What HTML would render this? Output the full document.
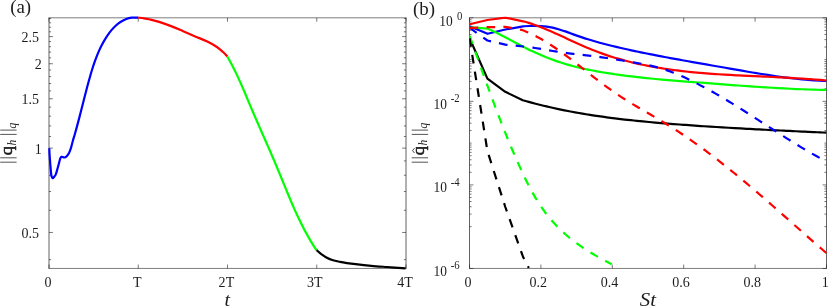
<!DOCTYPE html>
<html lang="en">
<head>
<meta charset="utf-8">
<title>Figure</title>
<style>
html,body{margin:0;padding:0;background:#ffffff;}
body{width:830px;height:307px;overflow:hidden;font-family:"Liberation Serif",serif;}
svg{display:block;will-change:transform;}
</style>
</head>
<body>
<svg width="830" height="307" viewBox="0 0 830 307">
<rect x="0" y="0" width="830" height="307" fill="#ffffff"/>
<g stroke="#262626" stroke-width="0.62" fill="none">
<path d="M49 268.45L49 264.55 M49 17.8L49 21.7 M138.25 268.45L138.25 264.55 M138.25 17.8L138.25 21.7 M227.5 268.45L227.5 264.55 M227.5 17.8L227.5 21.7 M316.75 268.45L316.75 264.55 M316.75 17.8L316.75 21.7 M406 268.45L406 264.55 M406 17.8L406 21.7 M49 259.61L51.1 259.61 M406 259.61L403.9 259.61 M49 232.46L52.9 232.46 M406 232.46L402.1 232.46 M49 210.27L51.1 210.27 M406 210.27L403.9 210.27 M49 191.51L51.1 191.51 M406 191.51L403.9 191.51 M49 175.26L51.1 175.26 M406 175.26L403.9 175.26 M49 160.92L51.1 160.92 M406 160.92L403.9 160.92 M49 148.1L52.9 148.1 M406 148.1L402.1 148.1 M49 136.5L51.1 136.5 M406 136.5L403.9 136.5 M49 125.91L51.1 125.91 M406 125.91L403.9 125.91 M49 116.17L51.1 116.17 M406 116.17L403.9 116.17 M49 107.15L51.1 107.15 M406 107.15L403.9 107.15 M49 98.75L52.9 98.75 M406 98.75L402.1 98.75 M49 90.9L51.1 90.9 M406 90.9L403.9 90.9 M49 83.52L51.1 83.52 M406 83.52L403.9 83.52 M49 76.57L51.1 76.57 M406 76.57L403.9 76.57 M49 69.99L51.1 69.99 M406 69.99L403.9 69.99 M49 63.74L52.9 63.74 M406 63.74L402.1 63.74 M49 57.81L51.1 57.81 M406 57.81L403.9 57.81 M49 52.14L51.1 52.14 M406 52.14L403.9 52.14 M49 46.73L51.1 46.73 M406 46.73L403.9 46.73 M49 41.56L51.1 41.56 M406 41.56L403.9 41.56 M49 36.59L52.9 36.59 M406 36.59L402.1 36.59 M49 31.81L51.1 31.81 M406 31.81L403.9 31.81 M49 27.22L51.1 27.22 M406 27.22L403.9 27.22 M49 22.8L51.1 22.8 M406 22.8L403.9 22.8 M49 18.52L51.1 18.52 M406 18.52L403.9 18.52 M469.5 268.45L469.5 264.55 M469.5 17.8L469.5 21.7 M540.9 268.45L540.9 264.55 M540.9 17.8L540.9 21.7 M612.3 268.45L612.3 264.55 M612.3 17.8L612.3 21.7 M683.7 268.45L683.7 264.55 M683.7 17.8L683.7 21.7 M755.1 268.45L755.1 264.55 M755.1 17.8L755.1 21.7 M826.5 268.45L826.5 264.55 M826.5 17.8L826.5 21.7 M469.5 17.8L473.4 17.8 M826.5 17.8L822.6 17.8 M469.5 59.58L471.6 59.58 M826.5 59.58L824.4 59.58 M469.5 47L471.6 47 M826.5 47L824.4 47 M469.5 39.64L471.6 39.64 M826.5 39.64L824.4 39.64 M469.5 34.42L471.6 34.42 M826.5 34.42L824.4 34.42 M469.5 30.38L471.6 30.38 M826.5 30.38L824.4 30.38 M469.5 27.07L471.6 27.07 M826.5 27.07L824.4 27.07 M469.5 24.27L471.6 24.27 M826.5 24.27L824.4 24.27 M469.5 21.85L471.6 21.85 M826.5 21.85L824.4 21.85 M469.5 19.71L471.6 19.71 M826.5 19.71L824.4 19.71 M469.5 101.35L473.4 101.35 M826.5 101.35L822.6 101.35 M469.5 88.77L471.6 88.77 M826.5 88.77L824.4 88.77 M469.5 81.42L471.6 81.42 M826.5 81.42L824.4 81.42 M469.5 76.2L471.6 76.2 M826.5 76.2L824.4 76.2 M469.5 72.15L471.6 72.15 M826.5 72.15L824.4 72.15 M469.5 68.84L471.6 68.84 M826.5 68.84L824.4 68.84 M469.5 66.05L471.6 66.05 M826.5 66.05L824.4 66.05 M469.5 63.62L471.6 63.62 M826.5 63.62L824.4 63.62 M469.5 61.49L471.6 61.49 M826.5 61.49L824.4 61.49 M469.5 143.12L471.6 143.12 M826.5 143.12L824.4 143.12 M469.5 130.55L471.6 130.55 M826.5 130.55L824.4 130.55 M469.5 123.19L471.6 123.19 M826.5 123.19L824.4 123.19 M469.5 117.97L471.6 117.97 M826.5 117.97L824.4 117.97 M469.5 113.93L471.6 113.93 M826.5 113.93L824.4 113.93 M469.5 110.62L471.6 110.62 M826.5 110.62L824.4 110.62 M469.5 107.82L471.6 107.82 M826.5 107.82L824.4 107.82 M469.5 105.4L471.6 105.4 M826.5 105.4L824.4 105.4 M469.5 103.26L471.6 103.26 M826.5 103.26L824.4 103.26 M469.5 184.9L473.4 184.9 M826.5 184.9L822.6 184.9 M469.5 172.32L471.6 172.32 M826.5 172.32L824.4 172.32 M469.5 164.97L471.6 164.97 M826.5 164.97L824.4 164.97 M469.5 159.75L471.6 159.75 M826.5 159.75L824.4 159.75 M469.5 155.7L471.6 155.7 M826.5 155.7L824.4 155.7 M469.5 152.39L471.6 152.39 M826.5 152.39L824.4 152.39 M469.5 149.6L471.6 149.6 M826.5 149.6L824.4 149.6 M469.5 147.17L471.6 147.17 M826.5 147.17L824.4 147.17 M469.5 145.04L471.6 145.04 M826.5 145.04L824.4 145.04 M469.5 226.68L471.6 226.68 M826.5 226.68L824.4 226.68 M469.5 214.1L471.6 214.1 M826.5 214.1L824.4 214.1 M469.5 206.74L471.6 206.74 M826.5 206.74L824.4 206.74 M469.5 201.52L471.6 201.52 M826.5 201.52L824.4 201.52 M469.5 197.48L471.6 197.48 M826.5 197.48L824.4 197.48 M469.5 194.17L471.6 194.17 M826.5 194.17L824.4 194.17 M469.5 191.37L471.6 191.37 M826.5 191.37L824.4 191.37 M469.5 188.95L471.6 188.95 M826.5 188.95L824.4 188.95 M469.5 186.81L471.6 186.81 M826.5 186.81L824.4 186.81 M469.5 268.45L473.4 268.45 M826.5 268.45L822.6 268.45"/>
</g>
<g stroke="#262626" fill="none">
<path stroke-width="0.6" d="M48.64 17.8H406.36 M48.64 268.45H406.36"/>
<path stroke-width="0.72" d="M49 17.8V268.45 M406 17.8V268.45"/>
<path stroke-width="0.6" d="M469.14 17.8H826.86 M469.14 268.45H826.86"/>
<path stroke-width="0.72" d="M469.5 17.8V268.45 M826.5 17.8V268.45"/>
</g>
<g fill="none" stroke-width="2.2" stroke-linejoin="round" stroke-linecap="butt">
<path stroke="#0000ff" d="M49.3 148.3 C49.35 149.42 49.43 152.33 49.6 155 C49.77 157.67 50.03 161.07 50.3 164.3 C50.57 167.53 50.92 172.23 51.2 174.4 C51.48 176.57 51.72 176.67 52 177.3 C52.28 177.93 52.57 178.25 52.9 178.2 C53.23 178.15 53.52 177.63 54 177 C54.48 176.37 55.15 176.03 55.8 174.4 C56.45 172.77 57.23 169.6 57.9 167.2 C58.57 164.8 59.35 161.57 59.8 160 C60.25 158.43 60.32 158.32 60.6 157.8 C60.88 157.28 61.13 157.03 61.5 156.9 C61.87 156.77 62.37 156.9 62.8 157 C63.23 157.1 63.68 157.47 64.1 157.5 C64.52 157.53 64.9 157.38 65.3 157.2 C65.7 157.02 65.9 157.07 66.5 156.4 C67.1 155.73 68.15 154.63 68.9 153.2 C69.65 151.77 70.35 149.83 71 147.8 C71.65 145.77 72.21 143.1 72.8 141 C73.39 138.9 73.95 137.16 74.52 135.22 C75.08 133.28 75.63 131.32 76.18 129.35 C76.72 127.37 77.26 125.39 77.8 123.39 C78.33 121.39 78.86 119.38 79.38 117.37 C79.91 115.35 80.43 113.33 80.95 111.3 C81.47 109.27 81.98 107.23 82.5 105.19 C83.02 103.15 83.54 101.11 84.06 99.06 C84.58 97.02 85.1 94.98 85.63 92.94 C86.16 90.9 86.69 88.86 87.23 86.83 C87.77 84.79 88.31 82.76 88.87 80.74 C89.43 78.73 89.98 76.71 90.56 74.71 C91.15 72.71 91.74 70.71 92.36 68.74 C92.98 66.76 93.62 64.79 94.3 62.84 C94.98 60.89 95.68 58.96 96.43 57.04 C97.18 55.13 97.95 53.23 98.79 51.35 C99.62 49.47 100.5 47.62 101.43 45.79 C102.36 43.96 103.34 42.15 104.39 40.37 C105.44 38.59 106.55 36.81 107.73 35.11 C108.91 33.4 110.15 31.71 111.47 30.14 C112.8 28.57 114.2 27.05 115.69 25.69 C117.18 24.33 118.75 23.05 120.43 21.98 C122.1 20.9 123.86 19.95 125.73 19.24 C127.6 18.53 129.57 17.98 131.66 17.7 C133.74 17.43 137.15 17.62 138.25 17.6"/>
<path stroke="#ff0000" d="M138.25 17.6 C139.21 17.72 142.04 17.98 144 18.3 C145.96 18.62 147.48 18.9 150 19.5 C152.52 20.1 155.58 20.8 159.1 21.9 C162.62 23 167.08 24.55 171.1 26.1 C175.12 27.65 179.18 29.48 183.2 31.2 C187.22 32.92 191.18 34.67 195.2 36.4 C199.22 38.13 203.68 39.83 207.3 41.6 C210.92 43.37 214.28 45.27 216.9 47 C219.52 48.73 221.23 50.4 223 52 C224.77 53.6 226.75 55.83 227.5 56.6"/>
<path stroke="#00ff00" d="M227.35 56.6 C227.86 57.5 229.4 60.19 230.38 61.99 C231.36 63.79 232.31 65.6 233.24 67.42 C234.16 69.23 235.06 71.05 235.94 72.87 C236.82 74.7 237.67 76.53 238.51 78.36 C239.36 80.19 240.18 82.03 240.99 83.87 C241.8 85.71 242.6 87.56 243.4 89.41 C244.19 91.26 244.97 93.11 245.76 94.97 C246.54 96.82 247.31 98.68 248.09 100.55 C248.88 102.41 249.65 104.28 250.44 106.14 C251.23 108.01 252.02 109.88 252.82 111.76 C253.62 113.63 254.43 115.5 255.24 117.38 C256.05 119.26 256.87 121.14 257.7 123.02 C258.52 124.9 259.35 126.78 260.17 128.66 C261 130.55 261.84 132.43 262.67 134.32 C263.5 136.2 264.33 138.09 265.16 139.97 C265.99 141.86 266.82 143.74 267.65 145.63 C268.48 147.51 269.31 149.4 270.13 151.29 C270.95 153.17 271.77 155.06 272.58 156.94 C273.39 158.82 274.19 160.71 274.99 162.59 C275.79 164.47 276.58 166.35 277.36 168.23 C278.15 170.11 278.92 171.99 279.69 173.87 C280.46 175.74 281.23 177.62 281.99 179.49 C282.76 181.36 283.52 183.23 284.29 185.09 C285.05 186.96 285.81 188.82 286.58 190.69 C287.35 192.55 288.12 194.4 288.9 196.26 C289.68 198.11 290.46 199.96 291.25 201.81 C292.04 203.65 292.84 205.5 293.65 207.33 C294.46 209.17 295.29 211 296.12 212.83 C296.96 214.66 297.81 216.49 298.68 218.31 C299.54 220.12 300.42 221.94 301.33 223.75 C302.23 225.55 303.15 227.36 304.09 229.15 C305.03 230.95 305.99 232.74 306.98 234.53 C307.97 236.31 308.98 238.09 310.02 239.86 C311.06 241.63 312.13 243.4 313.22 245.15 C314.32 246.91 316.04 249.53 316.6 250.4"/>
<path stroke="#000000" d="M316.6 250.2 C317.38 250.85 319.7 252.93 321.25 254.1 C322.8 255.27 324.07 256.22 325.9 257.2 C327.72 258.18 329.85 259.22 332.2 260 C334.55 260.78 337.53 261.38 340 261.9 C342.47 262.42 344.4 262.72 347 263.1 C349.6 263.48 351.56 263.75 355.6 264.2 C359.64 264.65 366.03 265.33 371.25 265.8 C376.47 266.27 381.17 266.58 386.9 267 C392.62 267.42 402.48 268.08 405.6 268.3"/>
</g>
<clipPath id="cb"><rect x="469.5" y="16.6" width="357.5" height="251.85"/></clipPath>
<g clip-path="url(#cb)" fill="none" stroke-width="2.2" stroke-linejoin="round" stroke-linecap="butt">
<path stroke="#0000ff" d="M469.6 26.2 L487.6 33.8 L505.3 29.5 L523.1 26.3 C524.09 26.25 527.06 26.07 529.03 26 C531.01 25.93 532.98 25.87 534.95 25.88 C536.92 25.88 538.89 25.92 540.86 26.04 C542.82 26.16 544.79 26.33 546.76 26.59 C548.72 26.86 550.69 27.21 552.65 27.64 C554.61 28.08 556.58 28.63 558.54 29.21 C560.5 29.79 562.46 30.47 564.42 31.14 C566.38 31.82 568.34 32.55 570.3 33.26 C572.26 33.97 574.22 34.7 576.18 35.4 C578.13 36.09 580.09 36.76 582.05 37.41 C584.01 38.06 585.96 38.68 587.92 39.29 C589.88 39.9 591.84 40.48 593.79 41.05 C595.75 41.62 597.71 42.17 599.66 42.7 C601.62 43.24 603.58 43.76 605.54 44.26 C607.5 44.77 609.46 45.26 611.41 45.74 C613.37 46.22 615.33 46.68 617.29 47.14 C619.25 47.6 621.22 48.05 623.18 48.5 C625.14 48.94 627.1 49.37 629.07 49.8 C631.03 50.23 632.99 50.66 634.96 51.07 C636.93 51.49 638.89 51.9 640.86 52.31 C642.83 52.72 644.8 53.12 646.76 53.52 C648.73 53.91 650.7 54.3 652.67 54.69 C654.65 55.08 656.62 55.46 658.59 55.84 C660.56 56.22 662.54 56.59 664.51 56.97 C666.49 57.34 668.46 57.7 670.44 58.07 C672.41 58.44 674.39 58.8 676.37 59.16 C678.35 59.52 680.32 59.87 682.3 60.23 C684.28 60.58 686.26 60.94 688.25 61.29 C690.23 61.64 692.21 61.99 694.19 62.34 C696.18 62.69 698.16 63.04 700.14 63.38 C702.13 63.73 704.12 64.08 706.1 64.42 C708.09 64.77 710.08 65.11 712.06 65.46 C714.05 65.81 716.04 66.15 718.03 66.5 C720.02 66.85 722.01 67.19 724 67.54 C726 67.89 727.99 68.24 729.98 68.59 C731.98 68.94 733.97 69.29 735.96 69.64 C737.96 69.99 739.96 70.34 741.95 70.69 C743.95 71.04 745.95 71.38 747.94 71.73 C749.94 72.07 751.94 72.41 753.94 72.74 C755.94 73.08 757.94 73.41 759.95 73.73 C761.95 74.06 763.95 74.38 765.95 74.69 C767.96 75 769.96 75.31 771.97 75.61 C773.97 75.91 775.98 76.2 777.98 76.48 C779.99 76.77 782 77.04 784.01 77.3 C786.01 77.57 788.02 77.82 790.03 78.06 C792.04 78.31 794.05 78.54 796.07 78.76 C798.08 78.98 800.09 79.19 802.1 79.38 C804.12 79.57 806.13 79.76 808.15 79.92 C810.16 80.09 812.18 80.24 814.19 80.38 C816.21 80.51 818.23 80.63 820.24 80.74 C822.26 80.84 825.29 80.96 826.3 81"/>
<path stroke="#ff0000" d="M469.6 24.2 L487.4 20 L505.3 17.6 L523.1 21.3 C524.03 21.56 526.83 22.31 528.69 22.88 C530.55 23.45 532.4 24.07 534.25 24.71 C536.11 25.36 537.96 26.04 539.81 26.75 C541.66 27.46 543.51 28.21 545.36 28.97 C547.2 29.73 549.05 30.53 550.9 31.33 C552.74 32.14 554.59 32.96 556.43 33.8 C558.28 34.63 560.12 35.48 561.97 36.33 C563.82 37.18 565.66 38.05 567.51 38.9 C569.36 39.76 571.21 40.62 573.06 41.47 C574.91 42.32 576.76 43.17 578.62 44.01 C580.48 44.84 582.33 45.66 584.19 46.47 C586.05 47.27 587.92 48.06 589.78 48.82 C591.65 49.58 593.52 50.32 595.4 51.04 C597.27 51.76 599.15 52.45 601.03 53.13 C602.91 53.81 604.79 54.46 606.68 55.09 C608.57 55.73 610.46 56.34 612.36 56.94 C614.25 57.53 616.15 58.11 618.05 58.66 C619.96 59.22 621.86 59.75 623.78 60.27 C625.69 60.79 627.6 61.29 629.52 61.77 C631.44 62.26 633.36 62.72 635.29 63.17 C637.22 63.62 639.15 64.05 641.09 64.46 C643.03 64.88 644.97 65.28 646.91 65.66 C648.86 66.05 650.81 66.41 652.76 66.77 C654.71 67.12 656.67 67.46 658.63 67.79 C660.59 68.11 662.56 68.42 664.52 68.72 C666.49 69.02 668.46 69.31 670.44 69.58 C672.41 69.86 674.39 70.12 676.37 70.37 C678.35 70.62 680.33 70.86 682.32 71.09 C684.3 71.32 686.29 71.53 688.28 71.74 C690.27 71.95 692.26 72.15 694.26 72.34 C696.25 72.53 698.25 72.71 700.25 72.88 C702.25 73.06 704.25 73.22 706.25 73.38 C708.25 73.54 710.26 73.69 712.26 73.83 C714.27 73.98 716.27 74.11 718.28 74.24 C720.29 74.38 722.3 74.5 724.31 74.62 C726.32 74.74 728.33 74.86 730.34 74.97 C732.35 75.08 734.36 75.19 736.37 75.3 C738.38 75.4 740.4 75.5 742.41 75.6 C744.42 75.7 746.43 75.8 748.45 75.89 C750.46 75.99 752.47 76.08 754.48 76.17 C756.49 76.26 758.5 76.35 760.52 76.45 C762.53 76.54 764.54 76.63 766.55 76.72 C768.55 76.81 770.56 76.9 772.57 77 C774.58 77.09 776.58 77.19 778.59 77.29 C780.59 77.39 782.6 77.49 784.6 77.59 C786.6 77.69 788.6 77.8 790.6 77.91 C792.59 78.02 794.59 78.14 796.58 78.25 C798.58 78.37 800.57 78.5 802.56 78.63 C804.55 78.76 806.54 78.89 808.52 79.03 C810.5 79.18 812.49 79.32 814.46 79.48 C816.44 79.63 818.42 79.8 820.39 79.97 C822.36 80.14 825.32 80.41 826.3 80.5"/>
<path stroke="#00ff00" d="M469.6 27.7 L478 27.8 L487.4 28.6 L495.1 32 L505.3 37.2 C506.2 37.69 508.87 39.17 510.67 40.15 C512.47 41.12 514.28 42.09 516.09 43.05 C517.91 44.01 519.73 44.96 521.56 45.89 C523.38 46.82 525.22 47.75 527.06 48.65 C528.9 49.55 530.75 50.44 532.61 51.31 C534.46 52.18 536.33 53.03 538.19 53.86 C540.06 54.69 541.94 55.49 543.82 56.27 C545.7 57.05 547.58 57.81 549.48 58.54 C551.37 59.27 553.27 59.96 555.17 60.64 C557.07 61.31 558.98 61.95 560.89 62.56 C562.81 63.18 564.73 63.77 566.65 64.33 C568.58 64.89 570.51 65.43 572.44 65.95 C574.38 66.47 576.32 66.96 578.26 67.43 C580.2 67.9 582.15 68.35 584.1 68.79 C586.06 69.22 588.01 69.63 589.97 70.03 C591.94 70.43 593.9 70.81 595.87 71.17 C597.84 71.54 599.81 71.88 601.79 72.22 C603.76 72.56 605.74 72.88 607.73 73.19 C609.71 73.5 611.7 73.8 613.69 74.09 C615.68 74.38 617.67 74.66 619.67 74.93 C621.66 75.21 623.66 75.47 625.66 75.72 C627.66 75.98 629.67 76.22 631.67 76.46 C633.68 76.7 635.69 76.93 637.7 77.15 C639.71 77.38 641.73 77.59 643.74 77.8 C645.76 78.02 647.78 78.22 649.8 78.42 C651.82 78.62 653.84 78.81 655.87 79 C657.89 79.19 659.92 79.37 661.95 79.55 C663.98 79.73 666.01 79.9 668.04 80.08 C670.07 80.25 672.1 80.42 674.14 80.58 C676.17 80.75 678.21 80.91 680.24 81.07 C682.28 81.23 684.32 81.39 686.35 81.55 C688.39 81.71 690.43 81.86 692.47 82.02 C694.51 82.18 696.55 82.33 698.6 82.49 C700.64 82.64 702.68 82.8 704.72 82.95 C706.76 83.11 708.81 83.27 710.85 83.42 C712.89 83.58 714.94 83.74 716.98 83.89 C719.02 84.05 721.07 84.21 723.11 84.36 C725.15 84.52 727.2 84.67 729.24 84.83 C731.28 84.98 733.33 85.13 735.37 85.28 C737.41 85.43 739.45 85.58 741.49 85.73 C743.53 85.88 745.57 86.03 747.61 86.17 C749.65 86.31 751.69 86.46 753.73 86.6 C755.76 86.74 757.8 86.87 759.84 87.01 C761.87 87.14 763.9 87.27 765.94 87.4 C767.97 87.53 770 87.65 772.03 87.77 C774.06 87.89 776.09 88.01 778.11 88.13 C780.14 88.24 782.16 88.35 784.18 88.45 C786.21 88.56 788.23 88.66 790.24 88.76 C792.26 88.85 794.28 88.94 796.29 89.03 C798.31 89.12 800.32 89.2 802.33 89.27 C804.33 89.35 806.34 89.42 808.34 89.48 C810.35 89.55 812.35 89.61 814.35 89.66 C816.34 89.71 818.34 89.76 820.33 89.8 C822.32 89.84 825.31 89.88 826.3 89.9"/>
<path stroke="#000000" d="M469.6 38.2 L487.4 78.6 L505.3 91.8 L522.8 100.2 C523.79 100.48 526.74 101.33 528.71 101.88 C530.69 102.42 532.66 102.95 534.64 103.47 C536.62 103.99 538.6 104.49 540.58 104.98 C542.56 105.48 544.54 105.96 546.53 106.42 C548.51 106.89 550.5 107.35 552.49 107.79 C554.48 108.24 556.47 108.67 558.46 109.09 C560.45 109.51 562.45 109.92 564.44 110.32 C566.44 110.72 568.43 111.11 570.43 111.49 C572.43 111.87 574.43 112.24 576.44 112.59 C578.44 112.95 580.44 113.3 582.45 113.64 C584.45 113.98 586.46 114.31 588.47 114.63 C590.47 114.95 592.48 115.26 594.49 115.57 C596.51 115.87 598.52 116.17 600.53 116.45 C602.54 116.74 604.56 117.02 606.58 117.29 C608.59 117.56 610.61 117.82 612.63 118.08 C614.65 118.34 616.66 118.59 618.69 118.83 C620.71 119.07 622.73 119.31 624.75 119.54 C626.77 119.77 628.8 119.99 630.82 120.21 C632.85 120.42 634.87 120.63 636.9 120.84 C638.93 121.05 640.96 121.25 642.98 121.44 C645.01 121.64 647.04 121.83 649.07 122.02 C651.1 122.2 653.13 122.38 655.17 122.56 C657.2 122.74 659.23 122.91 661.26 123.08 C663.3 123.25 665.33 123.42 667.37 123.58 C669.4 123.74 671.44 123.9 673.47 124.06 C675.51 124.22 677.55 124.37 679.58 124.52 C681.62 124.68 683.66 124.82 685.7 124.97 C687.73 125.12 689.77 125.26 691.81 125.41 C693.85 125.55 695.89 125.69 697.93 125.83 C699.97 125.97 702.01 126.1 704.05 126.24 C706.09 126.37 708.13 126.5 710.17 126.63 C712.21 126.76 714.25 126.89 716.29 127.02 C718.33 127.14 720.37 127.27 722.42 127.39 C724.46 127.51 726.5 127.63 728.54 127.75 C730.58 127.87 732.62 127.99 734.66 128.11 C736.71 128.22 738.75 128.34 740.79 128.45 C742.83 128.56 744.87 128.68 746.91 128.79 C748.95 128.9 750.99 129.01 753.03 129.12 C755.07 129.23 757.12 129.33 759.16 129.44 C761.2 129.54 763.24 129.65 765.28 129.75 C767.31 129.86 769.35 129.96 771.39 130.06 C773.43 130.17 775.47 130.27 777.51 130.37 C779.55 130.47 781.58 130.57 783.62 130.67 C785.66 130.77 787.69 130.87 789.73 130.97 C791.77 131.06 793.8 131.16 795.84 131.26 C797.87 131.36 799.9 131.45 801.94 131.55 C803.97 131.65 806 131.74 808.03 131.84 C810.07 131.94 812.1 132.03 814.13 132.13 C816.16 132.22 818.19 132.32 820.22 132.41 C822.25 132.51 825.29 132.65 826.3 132.7"/>
<path stroke="#0000ff" stroke-dasharray="8.7 8.2" d="M469.6 27.7 L474.3 31.2 L487.4 40.5 L505.3 44.6 L523.1 46.5 C524.09 46.61 527.05 46.9 529.03 47.15 C531.01 47.39 533 47.69 534.98 47.99 C536.96 48.29 538.95 48.62 540.94 48.95 C542.93 49.28 544.92 49.63 546.91 49.96 C548.9 50.3 550.89 50.65 552.88 50.98 C554.87 51.31 556.87 51.64 558.86 51.95 C560.85 52.26 562.85 52.55 564.84 52.82 C566.83 53.09 568.83 53.33 570.82 53.57 C572.81 53.8 574.81 54.02 576.8 54.23 C578.79 54.45 580.78 54.66 582.77 54.88 C584.76 55.1 586.75 55.31 588.74 55.55 C590.73 55.79 592.71 56.04 594.7 56.31 C596.68 56.57 598.66 56.85 600.64 57.14 C602.62 57.42 604.6 57.72 606.57 58.02 C608.55 58.32 610.52 58.64 612.49 58.95 C614.46 59.26 616.42 59.58 618.38 59.9 C620.35 60.22 622.3 60.54 624.26 60.86 C626.21 61.18 628.16 61.5 630.11 61.82 C632.06 62.15 634 62.47 635.94 62.81 C637.88 63.15 639.81 63.49 641.74 63.86 C643.67 64.23 645.59 64.61 647.51 65.02 C649.42 65.43 651.34 65.85 653.24 66.32 C655.15 66.78 657.05 67.27 658.95 67.8 C660.84 68.33 662.73 68.89 664.61 69.49 C666.49 70.1 668.37 70.75 670.24 71.44 C672.11 72.13 673.97 72.86 675.82 73.62 C677.68 74.38 679.52 75.17 681.36 75.99 C683.2 76.8 685.03 77.65 686.86 78.51 C688.68 79.37 690.5 80.25 692.31 81.14 C694.11 82.04 695.91 82.95 697.7 83.87 C699.5 84.79 701.28 85.72 703.06 86.67 C704.84 87.62 706.61 88.58 708.37 89.55 C710.14 90.53 711.89 91.51 713.65 92.5 C715.4 93.5 717.14 94.5 718.88 95.52 C720.63 96.53 722.36 97.56 724.09 98.59 C725.82 99.62 727.55 100.66 729.27 101.7 C730.99 102.75 732.71 103.81 734.42 104.87 C736.13 105.92 737.84 106.99 739.55 108.06 C741.26 109.13 742.96 110.21 744.66 111.29 C746.36 112.37 748.06 113.45 749.75 114.54 C751.45 115.62 753.14 116.71 754.83 117.8 C756.52 118.89 758.21 119.98 759.9 121.07 C761.59 122.17 763.27 123.26 764.96 124.35 C766.65 125.44 768.33 126.54 770.02 127.63 C771.71 128.71 773.39 129.8 775.08 130.89 C776.76 131.97 778.45 133.06 780.14 134.13 C781.82 135.21 783.51 136.29 785.2 137.36 C786.89 138.43 788.58 139.49 790.28 140.55 C791.97 141.61 793.66 142.66 795.36 143.71 C797.06 144.75 798.76 145.79 800.46 146.82 C802.16 147.85 803.87 148.87 805.58 149.88 C807.29 150.89 809 151.9 810.72 152.89 C812.44 153.88 814.16 154.86 815.88 155.83 C817.61 156.8 819.34 157.76 821.08 158.7 C822.81 159.65 825.43 161.03 826.3 161.5"/>
<path stroke="#ff0000" stroke-dasharray="8.7 8.2" d="M469.6 28.1 L487.4 27.2 L505.3 26.8 L511.4 27.9 L522.7 30.2 C523.64 30.59 526.49 31.74 528.35 32.57 C530.21 33.4 532.04 34.27 533.86 35.17 C535.67 36.07 537.46 37.02 539.23 37.98 C541 38.95 542.75 39.96 544.48 40.99 C546.21 42.02 547.93 43.08 549.63 44.17 C551.33 45.25 553.01 46.36 554.68 47.49 C556.36 48.62 558.02 49.78 559.67 50.95 C561.32 52.12 562.96 53.31 564.59 54.51 C566.22 55.71 567.85 56.94 569.47 58.16 C571.09 59.39 572.7 60.64 574.31 61.88 C575.92 63.13 577.53 64.39 579.14 65.65 C580.75 66.91 582.35 68.18 583.96 69.44 C585.57 70.71 587.18 71.97 588.8 73.24 C590.42 74.5 592.04 75.77 593.66 77.02 C595.29 78.28 596.92 79.53 598.55 80.77 C600.19 82.01 601.83 83.25 603.48 84.47 C605.13 85.7 606.78 86.91 608.44 88.11 C610.1 89.31 611.77 90.49 613.45 91.66 C615.12 92.83 616.81 93.98 618.5 95.11 C620.19 96.25 621.89 97.36 623.6 98.45 C625.31 99.55 627.03 100.62 628.75 101.69 C630.47 102.75 632.2 103.8 633.93 104.84 C635.66 105.88 637.4 106.91 639.13 107.94 C640.87 108.96 642.61 109.97 644.35 110.99 C646.09 112.01 647.83 113.01 649.57 114.03 C651.31 115.04 653.05 116.05 654.79 117.07 C656.52 118.09 658.26 119.11 659.98 120.14 C661.71 121.17 663.44 122.21 665.15 123.26 C666.87 124.31 668.58 125.37 670.29 126.44 C671.99 127.51 673.69 128.6 675.38 129.69 C677.08 130.79 678.76 131.89 680.44 133.01 C682.13 134.13 683.8 135.25 685.47 136.39 C687.14 137.53 688.8 138.67 690.46 139.83 C692.12 140.99 693.78 142.15 695.42 143.33 C697.07 144.5 698.72 145.69 700.36 146.88 C701.99 148.07 703.63 149.27 705.26 150.48 C706.88 151.69 708.51 152.91 710.13 154.13 C711.75 155.36 713.36 156.59 714.97 157.83 C716.58 159.07 718.19 160.32 719.79 161.57 C721.4 162.82 722.99 164.08 724.59 165.35 C726.18 166.62 727.77 167.89 729.36 169.17 C730.95 170.45 732.53 171.73 734.11 173.02 C735.69 174.31 737.26 175.6 738.84 176.9 C740.41 178.2 741.98 179.51 743.54 180.82 C745.11 182.13 746.67 183.44 748.23 184.76 C749.79 186.07 751.35 187.39 752.9 188.72 C754.46 190.04 756.01 191.37 757.56 192.7 C759.11 194.03 760.66 195.37 762.2 196.7 C763.75 198.04 765.29 199.38 766.83 200.72 C768.37 202.06 769.91 203.4 771.44 204.75 C772.98 206.09 774.52 207.44 776.05 208.78 C777.58 210.13 779.11 211.48 780.64 212.83 C782.17 214.18 783.7 215.52 785.23 216.87 C786.75 218.22 788.28 219.57 789.8 220.92 C791.33 222.27 792.85 223.62 794.38 224.97 C795.9 226.32 797.42 227.66 798.94 229.01 C800.46 230.35 801.98 231.7 803.5 233.04 C805.02 234.39 806.54 235.73 808.06 237.07 C809.58 238.4 811.1 239.74 812.62 241.08 C814.14 242.41 815.66 243.74 817.18 245.07 C818.7 246.4 820.22 247.72 821.74 249.04 C823.26 250.37 825.54 252.34 826.3 253"/>
<path stroke="#00ff00" stroke-dasharray="8.7 8.2" d="M469.6 35.8 C469.94 36.74 470.95 39.57 471.63 41.46 C472.3 43.34 472.97 45.23 473.65 47.12 C474.32 49.01 474.99 50.9 475.67 52.79 C476.34 54.69 477.01 56.58 477.69 58.47 C478.36 60.36 479.04 62.26 479.71 64.15 C480.39 66.05 481.06 67.94 481.74 69.84 C482.42 71.73 483.1 73.63 483.78 75.53 C484.46 77.42 485.14 79.32 485.82 81.21 C486.51 83.11 487.19 85.01 487.88 86.9 C488.57 88.8 489.26 90.69 489.95 92.58 C490.65 94.48 491.34 96.37 492.04 98.26 C492.74 100.16 493.44 102.05 494.15 103.94 C494.85 105.83 495.56 107.72 496.28 109.61 C496.99 111.49 497.71 113.38 498.43 115.26 C499.15 117.15 499.87 119.03 500.6 120.91 C501.33 122.79 502.07 124.67 502.81 126.55 C503.55 128.43 504.29 130.3 505.04 132.18 C505.79 134.05 506.55 135.92 507.31 137.79 C508.07 139.66 508.84 141.52 509.61 143.38 C510.39 145.25 511.17 147.11 511.95 148.96 C512.74 150.82 513.53 152.67 514.33 154.53 C515.13 156.38 515.94 158.22 516.75 160.07 C517.56 161.91 518.38 163.75 519.21 165.59 C520.04 167.42 520.88 169.26 521.72 171.09 C522.57 172.91 523.42 174.74 524.29 176.55 C525.15 178.37 526.03 180.18 526.93 181.98 C527.82 183.78 528.73 185.57 529.66 187.35 C530.59 189.12 531.54 190.89 532.51 192.64 C533.48 194.39 534.48 196.13 535.5 197.85 C536.52 199.57 537.56 201.27 538.63 202.96 C539.71 204.64 540.81 206.31 541.95 207.95 C543.08 209.59 544.25 211.22 545.45 212.81 C546.65 214.41 547.89 215.99 549.15 217.53 C550.42 219.08 551.72 220.6 553.06 222.1 C554.39 223.59 555.76 225.05 557.16 226.49 C558.57 227.92 560 229.32 561.47 230.7 C562.94 232.07 564.43 233.42 565.96 234.73 C567.48 236.05 569.03 237.34 570.61 238.6 C572.19 239.87 573.79 241.1 575.41 242.31 C577.03 243.52 578.68 244.7 580.34 245.86 C582 247.02 583.69 248.15 585.39 249.26 C587.08 250.37 588.8 251.45 590.53 252.51 C592.25 253.57 593.99 254.61 595.74 255.63 C597.49 256.64 599.26 257.64 601.03 258.61 C602.79 259.58 604.57 260.53 606.35 261.46 C608.13 262.4 610.81 263.74 611.7 264.2"/>
<path stroke="#000000" stroke-dasharray="8.7 8.2" d="M469.6 38.2 L487.4 151 L505.3 207 L523.1 257 L528.8 268"/>
</g>
<g font-family="'Liberation Serif', serif" fill="#1c1c1c">
<text x="10.2" y="12.7" font-size="18.9">(a)</text>
<text x="413" y="14.9" font-size="18.9">(b)</text>
<text transform="translate(48 286.7) scale(0.93 1)" font-size="15.1" text-anchor="middle">0</text>
<text transform="translate(137.3 286.7) scale(0.93 1)" font-size="15.1" text-anchor="middle">T</text>
<text transform="translate(226.4 286.7) scale(0.93 1)" font-size="15.1" text-anchor="middle">2T</text>
<text transform="translate(314.7 286.7) scale(0.93 1)" font-size="15.1" text-anchor="middle">3T</text>
<text transform="translate(405 286.7) scale(0.93 1)" font-size="15.1" text-anchor="middle">4T</text>
<text transform="translate(39 42.19) scale(0.93 1)" font-size="15.1" text-anchor="end">2.5</text>
<text transform="translate(41.7 69.34) scale(0.93 1)" font-size="15.1" text-anchor="end">2</text>
<text transform="translate(39 104.35) scale(0.93 1)" font-size="15.1" text-anchor="end">1.5</text>
<text transform="translate(41.7 153.7) scale(0.93 1)" font-size="15.1" text-anchor="end">1</text>
<text transform="translate(39 238.06) scale(0.93 1)" font-size="15.1" text-anchor="end">0.5</text>
<text transform="translate(468 286.7) scale(0.93 1)" font-size="15.1" text-anchor="middle">0</text>
<text transform="translate(538.2 286.7) scale(0.93 1)" font-size="15.1" text-anchor="middle">0.2</text>
<text transform="translate(609.4 286.7) scale(0.93 1)" font-size="15.1" text-anchor="middle">0.4</text>
<text transform="translate(681 286.7) scale(0.93 1)" font-size="15.1" text-anchor="middle">0.6</text>
<text transform="translate(752.3 286.7) scale(0.93 1)" font-size="15.1" text-anchor="middle">0.8</text>
<text transform="translate(825.3 286.7) scale(0.93 1)" font-size="15.1" text-anchor="middle">1</text>
<text transform="translate(439.3 26.2) scale(0.89 1)" font-size="15.1">10</text>
<text transform="translate(456.9 20) scale(0.88 1)" font-size="12.2">0</text>
<text transform="translate(433.5 108.75) scale(0.89 1)" font-size="15.1">10</text>
<text transform="translate(450.8 102.25) scale(0.88 1)" font-size="12.2">-2</text>
<text transform="translate(433.5 192.3) scale(0.89 1)" font-size="15.1">10</text>
<text transform="translate(450.8 185.8) scale(0.88 1)" font-size="12.2">-4</text>
<text transform="translate(433.5 275.85) scale(0.89 1)" font-size="15.1">10</text>
<text transform="translate(450.8 269.35) scale(0.88 1)" font-size="12.2">-6</text>
<text transform="translate(227.3 305.7) scale(1.08 1)" font-size="18.5" text-anchor="middle" font-style="italic">t</text>
<text transform="translate(647.9 305.6) scale(1.11 1)" font-size="18.7" text-anchor="middle" font-style="italic">St</text>
<g transform="translate(12.2 162.6) rotate(-90)">
<path stroke="#1c1c1c" stroke-width="0.75" fill="none" d="M0.4 -12V4.4 M4.8 -12V4.4 M28.2 -12V4.4 M32.5 -12V4.4"/>
<text x="7.4" y="0" font-size="17" stroke="#1c1c1c" stroke-width="0.55" stroke-linejoin="round" transform="translate(7.4 0) scale(1.08 1) translate(-7.4 0)">q</text>
<text x="17.2" y="3.6" font-size="11.5" font-style="italic">h</text>
<text x="34.2" y="3.6" font-size="11.5" font-style="italic">q</text>
</g>
<g transform="translate(423.7 162.6) rotate(-90)">
<path stroke="#1c1c1c" stroke-width="0.75" fill="none" d="M0.4 -12V4.4 M4.8 -12V4.4 M28.2 -12V4.4 M32.5 -12V4.4"/>
<text x="7.4" y="0" font-size="17" stroke="#1c1c1c" stroke-width="0.55" stroke-linejoin="round" transform="translate(7.4 0) scale(1.08 1) translate(-7.4 0)">q</text>
<path stroke="#1c1c1c" stroke-width="0.8" fill="none" d="M9.6 -9.2 L12 -11.2 L14.4 -9.2"/>
<text x="17.2" y="3.6" font-size="11.5" font-style="italic">h</text>
<text x="34.2" y="3.6" font-size="11.5" font-style="italic">q</text>
</g>
</g>
</svg>
</body>
</html>
